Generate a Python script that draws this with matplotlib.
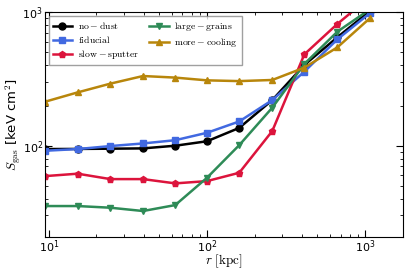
import matplotlib
matplotlib.use("Agg")
import matplotlib.pyplot as plt

plt.rcParams['mathtext.fontset'] = 'cm'

r = [9.5, 15.2, 24.5, 39.4, 63, 100, 160, 259, 413, 668, 1070]

no_dust = [94.4, 94.6, 95, 95.5, 100, 108, 136, 220, 403, 650, 1020]
fiducial = [91.7, 94.4, 99.4, 104, 110, 125, 152, 220, 359, 627, 983]
slow_sputter = [59.2, 61.7, 56.2, 56.2, 52.2, 54.3, 62.7, 129, 484, 818, 1300]
large_grains = [35.3, 35.3, 34.3, 32.4, 35.9, 57.5, 101, 193, 410, 716, 1050]
more_cooling = [214, 251, 292, 333, 324, 309, 305, 311, 385, 546, 901]

series = [
    (no_dust, r'$\rm no-dust$', 'black', 'o'),
    (fiducial, r'$\rm fiducial$', '#4169E1', 's'),
    (slow_sputter, r'$\rm slow-sputter$', '#DC143C', 'p'),
    (large_grains, r'$\rm large-grains$', '#2E8B57', 'v'),
    (more_cooling, r'$\rm more-cooling$', '#B8860B', '^'),
]

fig = plt.figure(figsize=(4.07, 2.71), dpi=100)
ax = fig.add_axes([45/407, 1-236.7/271, (402.7-45)/407, (236.7-12.3)/271])

for y, lab, c, m in series:
    ax.plot(r, y, color=c, marker=m, lw=1.8, ms=5, label=lab, mec=c)

ax.set_xscale('log')
ax.set_yscale('log')
ax.set_xlim(9.45, 1730)
ax.set_ylim(20.8, 1000)
ax.tick_params(which='both', direction='in', top=True, right=True, labelsize=8, pad=1.5)
ax.tick_params(which='major', length=5)
ax.tick_params(which='minor', length=2.5)
ax.set_xlabel(r'$r\ [\rm kpc]$', fontsize=9.5)
ax.xaxis.set_label_coords(0.5, -0.072)
ax.set_ylabel(r'$S_{\rm gas}$ [keV cm$^2$]', fontsize=9.5)
ax.yaxis.set_label_coords(-0.062, 0.5)
leg = ax.legend(loc='upper left', ncol=2, fontsize=7, handlelength=2.0,
                frameon=True, fancybox=False, edgecolor='#888888',
                borderpad=0.4, labelspacing=0.3, columnspacing=1.0, handletextpad=0.6,
                borderaxespad=0.4)
leg.get_frame().set_linewidth(1.0)

fig.savefig('out.png', dpi=100)
